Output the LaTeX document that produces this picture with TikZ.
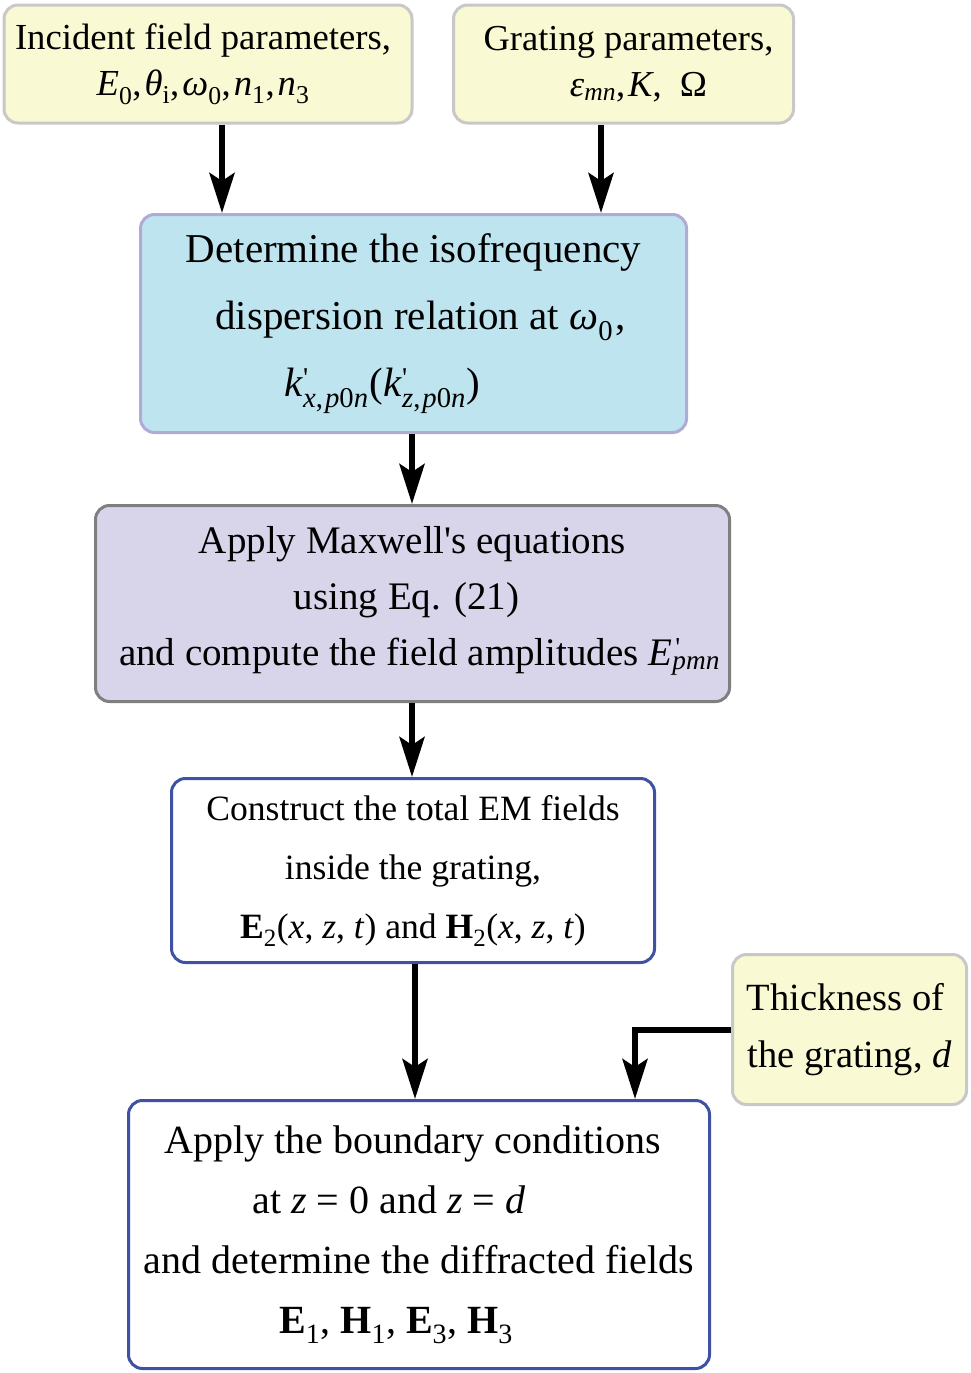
\documentclass[tikz,border=0pt]{standalone}
\usepackage{fontspec}
\setmainfont{Liberation Serif}
\usetikzlibrary{arrows.meta}
\definecolor{yel}{HTML}{F9F9D3}
\definecolor{graybd}{HTML}{C8C8C8}
\definecolor{bluefill}{HTML}{BEE5EF}
\definecolor{lavbd}{HTML}{B3A9D5}
\definecolor{lavfill}{HTML}{D8D5EB}
\definecolor{darkbd}{HTML}{7F7F7F}
\definecolor{bluebd}{HTML}{3F51A3}
\newcommand\sbs[1]{\textsubscript{#1}}
\newcommand\supsub[2]{\makebox[0pt][l]{\textsuperscript{#1}}\textsubscript{#2}}
\newcommand\cm{,\kern3pt}
\newcommand\padr[1]{\hspace*{#1}\null}
\begin{document}
\begin{tikzpicture}[x=1pt,y=-1pt,
  box/.style={rounded corners=14pt, line width=3pt, align=center, inner sep=0pt, anchor=center},
  yelbox/.style={box, draw=graybd, fill=yel},
  arr/.style={line width=6pt, -{Stealth[length=40pt,width=25pt,inset=8pt]}}]
\useasboundingbox (0,0) rectangle (970,1373);

\node[yelbox, minimum width=408pt, minimum height=118pt,
  font=\fontsize{36.7}{46}\selectfont] (inc) at (208,64)
  {Incident field parameters,\padr{10pt}\\
   \textit{E}\sbs{0}\cm\textit{θ}\sbs{i}\cm\textit{ω}\sbs{0}\cm\textit{n}\sbs{1}\cm\textit{n}\sbs{3}\padr{10pt}};

\node[yelbox, minimum width=340pt, minimum height=118pt,
  font=\fontsize{36.5}{46}\selectfont] (gra) at (623.5,64)
  {\hspace*{10pt}Grating parameters,\\
   \hspace*{30pt}\textit{ε}\sbs{\textit{mn}}\cm\textit{K}, \ Ω};

\node[box, draw=lavbd, fill=bluefill, minimum width=546pt, minimum height=218pt,
  font=\fontsize{41}{67}\selectfont] (det) at (413.5,323.5)
  {Determine the isofrequency\\
   \hspace*{14pt}dispersion relation at \textit{ω}\sbs{0}\kern2pt,\\
   \textit{k}\supsub{\textquotesingle}{\textit{x},\kern2pt\textit{p}0\textit{n}}\kern1pt(\textit{k}\supsub{\textquotesingle}{\textit{z},\kern2pt\textit{p}0\textit{n}}\kern1pt)\padr{62pt}};

\node[box, draw=darkbd, fill=lavfill, minimum width=634pt, minimum height=196pt,
  font=\fontsize{39}{56}\selectfont] (max) at (412.5,603.5)
  {Apply Maxwell\textquotesingle s equations\\
   using Eq. (21)\padr{12pt}\\
   \hspace*{14pt}and compute the field amplitudes \textit{E}\supsub{\kern3pt\textquotesingle}{\textit{pmn}}\\[-40pt]\mbox{}};

\node[box, draw=bluebd, fill=white, minimum width=483pt, minimum height=184pt,
  font=\fontsize{35.6}{59}\selectfont] (con) at (413,870.5)
  {Construct the total EM fields\\
   inside the grating,\\
   \textbf{E}\sbs{2}(\textit{x}, \textit{z}, \textit{t}) and \textbf{H}\sbs{2}(\textit{x}, \textit{z}, \textit{t})};

\node[yelbox, minimum width=234pt, minimum height=150pt,
  font=\fontsize{38.5}{57}\selectfont] (thk) at (849.5,1029.5)
  {Thickness of\padr{8pt}\\
   the grating, \textit{d}};

\node[box, draw=bluebd, fill=white, minimum width=581pt, minimum height=268pt,
  font=\fontsize{40}{60}\selectfont] (bnd) at (419,1234.5)
  {Apply the boundary conditions\padr{12pt}\\
   at \textit{z} = 0 and \textit{z} = \textit{d}\padr{60pt}\\
   and determine the diffracted fields\\
   \textbf{E}\sbs{1}, \textbf{H}\sbs{1}, \textbf{E}\sbs{3}, \textbf{H}\sbs{3}\padr{46pt}};

\coordinate (xa) at (222,0);
\coordinate (xb) at (601,0);
\coordinate (xc) at (412,0);
\coordinate (xd) at (415,0);
\coordinate (xe) at (635,0);

\draw[arr] (inc.south -| xa) -- (det.north -| xa);
\draw[arr] (gra.south -| xb) -- (det.north -| xb);
\draw[arr] (det.south -| xc) -- (max.north -| xc);
\draw[arr] (max.south -| xc) -- (con.north -| xc);
\draw[arr] (con.south -| xd) -- (bnd.north -| xd);
\draw[arr] (thk.west) -| (bnd.north -| xe);
\end{tikzpicture}
\end{document}
